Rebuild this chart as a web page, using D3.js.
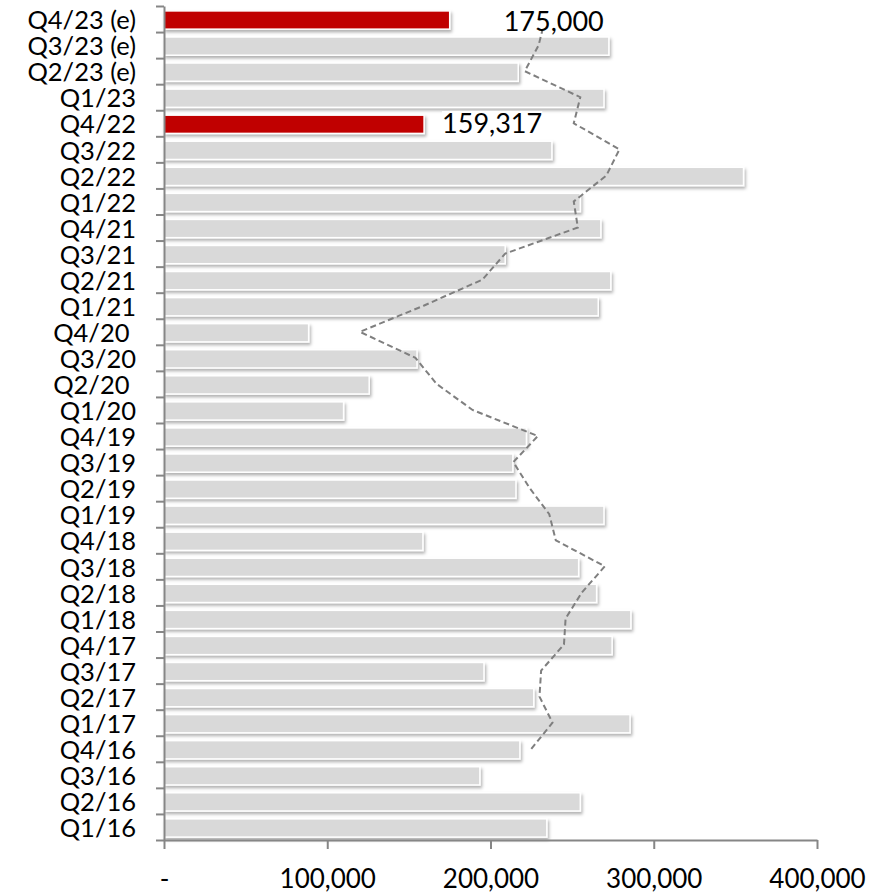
<!DOCTYPE html>
<html>
<head>
<meta charset="utf-8">
<script src="https://cdn.jsdelivr.net/npm/d3@7"></script>
<style>
  body { margin: 0; background: #fff; }
  text { font-family: Lato, "Open Sans", sans-serif; fill: #000; }
</style>
</head>
<body>
<div id="my_dataviz"></div>
<script>

// quarters, bottom to top
var quarters = ["Q1/16","Q2/16","Q3/16","Q4/16","Q1/17","Q2/17","Q3/17","Q4/17",
  "Q1/18","Q2/18","Q3/18","Q4/18","Q1/19","Q2/19","Q3/19","Q4/19",
  "Q1/20","Q2/20 ","Q3/20","Q4/20 ","Q1/21","Q2/21","Q3/21","Q4/21",
  "Q1/22","Q2/22","Q3/22","Q4/22","Q1/23","Q2/23 (e)","Q3/23 (e)","Q4/23 (e)"]

var units = [234500, 255000, 193500, 218000, 285500, 226500, 196000, 274500,
  286000, 265000, 254000, 158600, 269500, 215600, 213700, 222000,
  110000, 125700, 155000, 88600, 266000, 273700, 209000, 267600,
  255000, 355000, 237600, 159317, 269500, 217000, 272500, 175000]

// 4 quarter average (dashed line)
var avg4 = [null, null, null, 225000, 238000, 230000, 231000, 245000,
  246000, 256000, 270000, 240000, 236000, 224000, 214000, 229000,
  189000, 167000, 154000, 120000, 159000, 195000, 209000, 253500,
  251000, 271000, 279000, 251000, 255000, 221000, 229500, 233500]

var highlighted = ["Q4/22", "Q4/23 (e)"]
var xTicks = [0, 100000, 200000, 300000, 400000]
var xTickLabels = ["-", "100,000", "200,000", "300,000", "400,000"]

var width = 887
var height = 894
var mLeft = 164, mRight = 817, mTop = 6, mBottom = 840

var svg = d3.select("#my_dataviz")
  .append("svg")
    .attr("width", width)
    .attr("height", height)

// shadow under the bars
var defs = svg.append("defs")
defs.append("filter")
    .attr("id", "shadow")
    .attr("x", "-5%").attr("y", "-50%")
    .attr("width", "110%").attr("height", "200%")
  .append("feDropShadow")
    .attr("dx", 1.5)
    .attr("dy", 2.5)
    .attr("stdDeviation", 1.5)
    .attr("flood-color", "#000")
    .attr("flood-opacity", 0.3)

var x = d3.scaleLinear()
  .domain([0, 400000])
  .range([mLeft, mRight])

var y = d3.scaleBand()
  .domain(quarters.slice().reverse())
  .range([mTop, mBottom])
  .paddingInner(0.3)
  .paddingOuter(0.15)

// Bars
svg.append("g")
    .attr("transform", "translate(0,1)")
  .selectAll("rect")
  .data(quarters)
  .enter()
  .append("rect")
    .attr("x", x(0))
    .attr("y", function(d) { return y(d) })
    .attr("width", function(d, i) { return x(units[i]) - x(0) })
    .attr("height", y.bandwidth())
    .attr("fill", function(d) { return highlighted.indexOf(d) >= 0 ? "#c00000" : "#d9d9d9" })
    .attr("stroke", "#fff")
    .style("stroke-width", "1.5px")
    .attr("filter", "url(#shadow)")

// 4 quarter average line
var line = d3.line()
  .defined(function(d) { return d.v != null })
  .x(function(d) { return x(d.v) })
  .y(function(d) { return y(d.q) + y.bandwidth() / 2 })

svg.append("path")
  .datum(quarters.map(function(q, i) { return {q: q, v: avg4[i]} }))
  .attr("d", line)
  .attr("fill", "none")
  .attr("stroke", "#7f7f7f")
  .style("stroke-width", "2px")
  .style("stroke-dasharray", "6,3.5")

// value labels on the red bars
var labelPos = {"Q4/22": {dx: 18, base: 133}, "Q4/23 (e)": {dx: 54, base: 31}}
highlighted.forEach(function(q) {
  var i = quarters.indexOf(q)
  var p = labelPos[q]
  var lx = x(units[i]) + p.dx
  var g = svg.append("g")
  var t = g.append("text")
    .attr("x", lx)
    .attr("y", p.base)
    .style("font-size", "27px")
    .text(d3.format(",")(units[i]))
  var bb = t.node().getBBox()
  g.insert("rect", "text")
    .attr("x", bb.x)
    .attr("y", p.base - 22)
    .attr("width", bb.width)
    .attr("height", 21)
    .attr("fill", "#fff")
})

// Y axis: ticks on the category boundaries
var yb = d3.scaleLinear()
  .domain([0, quarters.length])
  .range([mBottom, mTop])

var yAxis = svg.append("g")
  .attr("transform", "translate(" + mLeft + ",0)")
  .call(d3.axisLeft(yb).tickValues(d3.range(quarters.length + 1)).tickFormat("").tickSize(8).tickSizeOuter(0))
yAxis.selectAll("line, path").attr("stroke", "#868686").style("stroke-width", "2px")

// category labels
svg.append("g")
  .selectAll("text")
  .data(quarters)
  .enter()
  .append("text")
    .attr("x", 136)
    .attr("y", function(d) { return y(d) + y.bandwidth() / 2 + 1 })
    .attr("dy", "0.36em")
    .attr("text-anchor", "end")
    .style("white-space", "pre")
    .style("font-size", "25.5px")
    .text(function(d) { return d })

// X axis
var xAxis = svg.append("g")
  .attr("transform", "translate(0," + mBottom + ")")
  .call(d3.axisBottom(x).tickValues(xTicks).tickSize(9).tickSizeOuter(0).tickPadding(21)
    .tickFormat(function(d, i) { return xTickLabels[i] }))
xAxis.selectAll("line, path").attr("stroke", "#868686").style("stroke-width", "2px")
xAxis.selectAll("text")
  .style("font-size", "26px")
  .attr("fill", "#000")
  .attr("font-family", null)

</script>
</body>
</html>
